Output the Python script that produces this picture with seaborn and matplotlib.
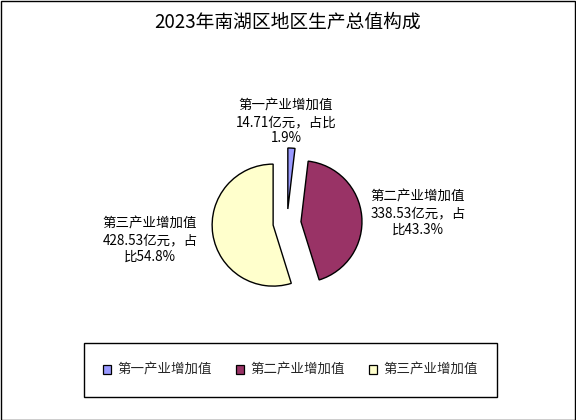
import matplotlib
matplotlib.use("Agg")
import matplotlib.pyplot as plt
import seaborn as sns
from matplotlib.patches import Patch, Rectangle

# ---- data ----
categories = ["第一产业增加值", "第二产业增加值", "第三产业增加值"]
values = [14.71, 338.53, 428.53]          # 亿元
shares = ["1.9%", "43.3%", "54.8%"]
slice_labels = [
    "第一产业增加值\n14.71亿元，占比\n1.9%",
    "第二产业增加值\n338.53亿元，占\n比43.3%",
    "第三产业增加值\n428.53亿元，占\n比54.8%",
]
title = "2023年南湖区地区生产总值构成"

sns.set_theme(style="white")
plt.rcParams["font.family"] = ["Noto Sans CJK SC", "DejaVu Sans"]

colors = ["#9999FF", "#993366", "#FFFFCC"]

W, H = 576, 420
fig = plt.figure(figsize=(W / 100, H / 100), dpi=100)
fig.patch.set_facecolor("white")
ax = fig.add_axes([0, 0, 1, 1])

cx, cy, r = 287, H - 223, 61
explode_frac = 0.23
wedges, texts = ax.pie(
    values,
    colors=colors,
    startangle=90,
    counterclock=False,
    explode=[explode_frac * r] * len(values),
    center=(cx, cy),
    radius=r,
    labels=slice_labels,
    labeldistance=1.0,
    wedgeprops=dict(edgecolor="black", linewidth=1.0),
    textprops=dict(fontsize=9.7, color="black"),
    frame=True,
)
ax.set_xlim(0, W)
ax.set_ylim(0, H)
ax.set_aspect("equal")
ax.axis("off")

# label placement (pixel positions of label centres)
label_pos = [(286, H - 122), (418, H - 213), (150, H - 240)]
for t, (x, y) in zip(texts, label_pos):
    t.set_position((x, y))
    t.set_ha("center")
    t.set_va("center")
    t.set_multialignment("center")
    t.set_linespacing(1.22)

fig.text(0.5, 1 - 22 / H, title, ha="center", va="center", fontsize=13.5, color="black")

handles = [Patch(facecolor=c, edgecolor="black", linewidth=0.9) for c in colors]
leg = fig.legend(
    handles, categories,
    loc="center", bbox_to_anchor=(290.5 / W, 1 - 370 / H),
    ncol=3, frameon=True, fancybox=False, fontsize=9.7,
    handlelength=0.6, handleheight=0.6, handletextpad=0.45,
    columnspacing=1.8, borderpad=1.45, borderaxespad=0,
    edgecolor="black", framealpha=1,
)
leg.get_frame().set_linewidth(1.0)

fig.patches.append(Rectangle((0.5 / W, 0.5 / H), 1 - 1.5 / W, 1 - 1.5 / H,
                             transform=fig.transFigure, fill=False,
                             edgecolor="black", linewidth=1.0))

fig.savefig("out.png", dpi=100)
